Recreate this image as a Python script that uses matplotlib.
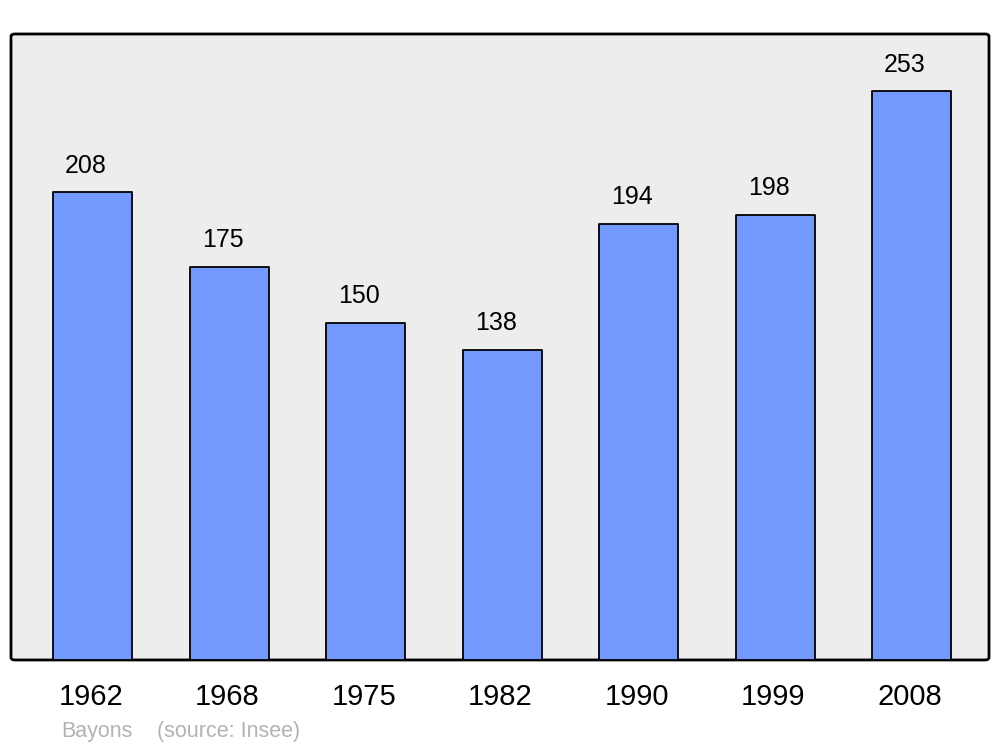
import matplotlib
matplotlib.use("Agg")
import matplotlib.pyplot as plt
import matplotlib.transforms as mtransforms
from matplotlib.patches import FancyBboxPatch

years = ["1962", "1968", "1975", "1982", "1990", "1999", "2008"]
population = [208, 175, 150, 138, 194, 198, 253]

plt.rcParams['font.family'] = ['Liberation Sans', 'DejaVu Sans']

fig = plt.figure(figsize=(10, 7.47), dpi=100)
ax = fig.add_axes([0.011, 0.1165, 0.978, 0.838])
ax.set_facecolor('none')

# rounded frame instead of spines
frame = FancyBboxPatch((0, 0), 1, 1, boxstyle="round,pad=0,rounding_size=0.004",
                       transform=ax.transAxes, facecolor='#ededed',
                       edgecolor='black', linewidth=2, zorder=0, clip_on=False)
ax.add_patch(frame)
for s in ax.spines.values():
    s.set_visible(False)

x = list(range(len(years)))
bars = ax.bar(x, population, width=0.58, color='#7399ff', edgecolor='black',
              linewidth=1.3, zorder=2)
for b in bars:
    b.set_joinstyle('round')

for xi, v in zip(x, population):
    ax.annotate(str(v), (xi - 0.05, v), xytext=(0, 10.5), textcoords='offset points',
                ha='center', va='bottom', fontsize=18)

ax.set_xlim(-0.6, 6.565)
ax.set_ylim(0, 278.5)
ax.set_xticks(x)
ax.set_xticklabels(years, fontsize=21)
ax.tick_params(axis='x', length=0, pad=16.5)
shift = mtransforms.ScaledTranslation(-2 / 100, 0, fig.dpi_scale_trans)
for lbl in ax.get_xticklabels():
    lbl.set_transform(lbl.get_transform() + shift)
ax.set_yticks([])

fig.text(0.061, 0.014, "Bayons", color='#b3b3b3', fontsize=15.5, ha='left', va='baseline')
fig.text(0.157, 0.014, "(source: Insee)", color='#b3b3b3', fontsize=15.5, ha='left', va='baseline')

fig.savefig("out.png", dpi=100)
